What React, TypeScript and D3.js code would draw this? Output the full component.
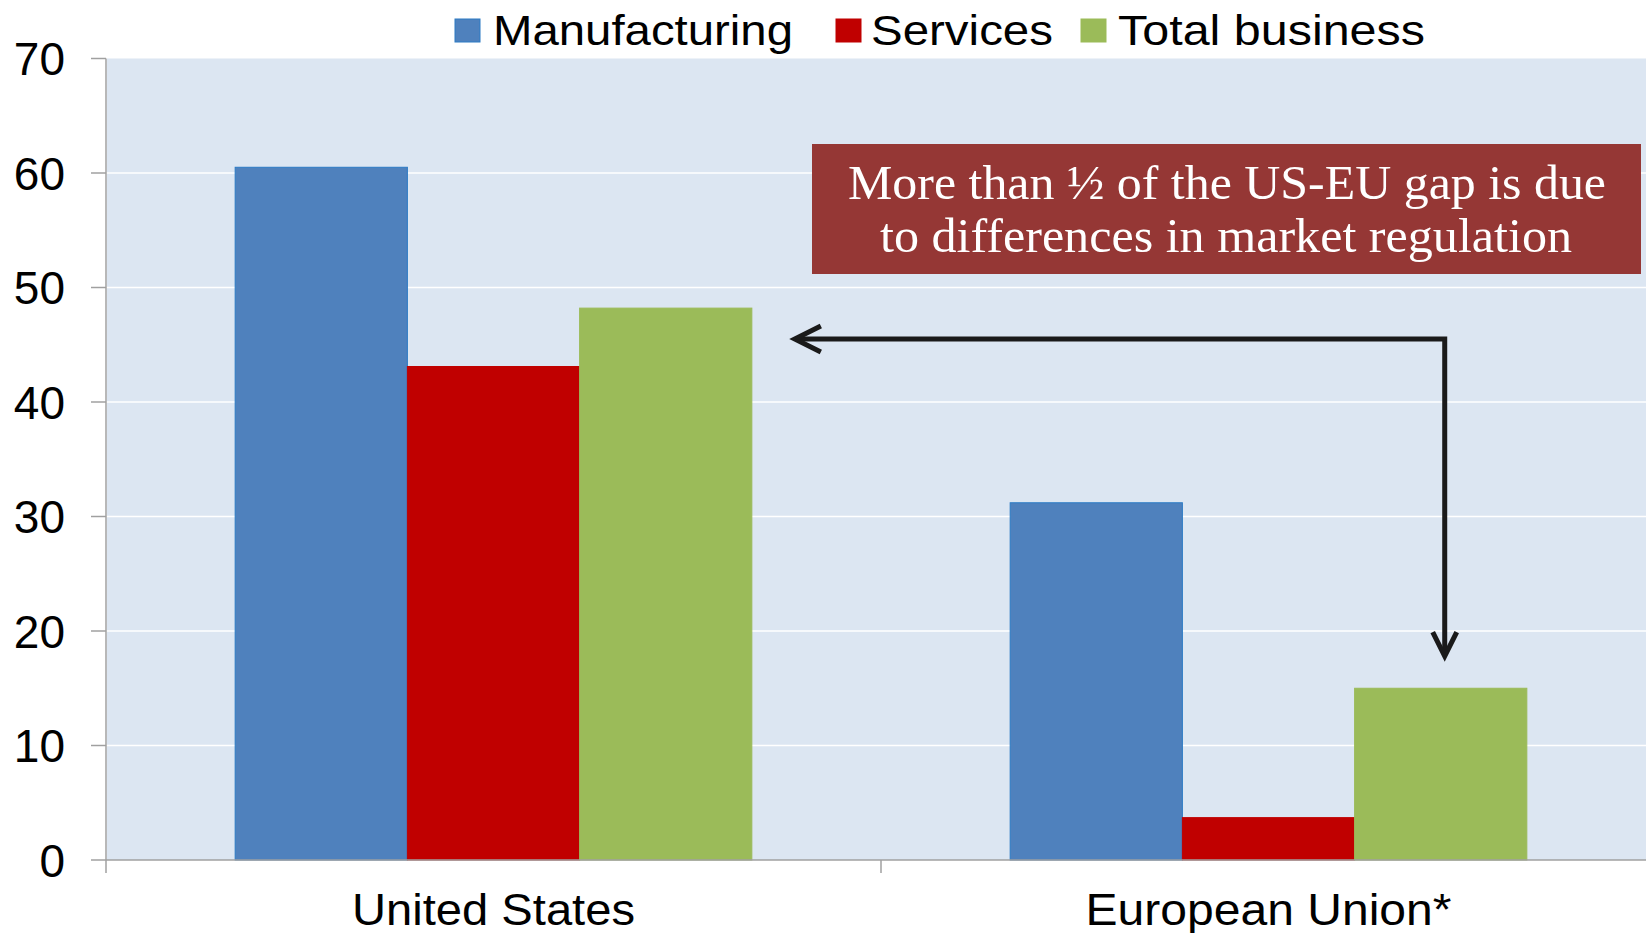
import React, { useEffect } from "react";
import * as d3 from "d3";

const categories = ["United States", "European Union*"];
const seriesNames = ["Manufacturing", "Services", "Total business"];
const manufacturing = [60.5, 31.2];
const services = [43.1, 3.7];
const totalBusiness = [48.2, 15.0];
const yTicks = [0, 10, 20, 30, 40, 50, 60, 70];
const annotationLines = ["More than ½ of the US-EU gap is due", "to differences in market regulation"];
// arrow: horizontal level (value), vertical arrow tip (value)
const arrowLevel = 45.5;
const arrowTipValue = 17.8;

const colors = ["#4F81BD", "#C00000", "#9BBB59"];
const strokes = ["#2C7BC4", "#C00000", "#9BBB59"];

const W = 1646;
const H = 933;
const left = 106;
const right = 1656;
const top = 58.5;
const bottom = 860;

export default function App() {
  useEffect(() => {
    document.body.style.margin = "0";
  }, []);

  const x0 = d3.scaleBand<string>().domain(categories).range([left, right]).paddingInner(1 / 3).paddingOuter(1 / 6);
  const x1 = d3.scaleBand<string>().domain(seriesNames).range([0, x0.bandwidth()]).padding(0);
  const y = d3.scaleLinear().domain([0, 70]).range([bottom, top]);
  const seriesValues = [manufacturing, services, totalBusiness];

  const sans = "'Liberation Sans', Arial, sans-serif";
  const usTotalRight = (x0(categories[0]) as number) + (x1(seriesNames[2]) as number) + x1.bandwidth();
  const euTotalCenter = (x0(categories[1]) as number) + (x1(seriesNames[2]) as number) + x1.bandwidth() / 2 + 4;
  const arrowY = y(arrowLevel);
  const arrowLeftX = usTotalRight + 43;
  const tipY = y(arrowTipValue);

  const legendItems = [
    { sq: 455, tx: 493, len: 300 },
    { sq: 836, tx: 871, len: 182 },
    { sq: 1081, tx: 1118, len: 307 },
  ];
  const catLens = [283, 366];

  return (
    <svg width={W} height={H} style={{ display: "block", background: "#fff" }}>
      <rect x={left + 1} y={top} width={W - left - 1} height={bottom - top} fill="#DCE6F2" />
      {yTicks.slice(1, -1).map((t) => (
        <line key={"g" + t} x1={left + 1} x2={W} y1={y(t)} y2={y(t)} stroke="#FFFFFF" strokeWidth={1.5} />
      ))}
      {categories.map((c, ci) =>
        seriesNames.map((s, si) => {
          const v = seriesValues[si][ci];
          const bx = (x0(c) as number) + (x1(s) as number);
          return (
            <rect
              key={c + s}
              x={bx}
              y={y(v)}
              width={x1.bandwidth()}
              height={y(0) - y(v)}
              fill={colors[si]}
              stroke={strokes[si]}
              strokeWidth={1}
            />
          );
        })
      )}
      {/* axes */}
      <line x1={left} x2={left} y1={top} y2={bottom + 13} stroke="#A0A0A0" strokeWidth={1.5} />
      <line x1={left} x2={W} y1={bottom} y2={bottom} stroke="#A0A0A0" strokeWidth={1.5} />
      {yTicks.map((t) => (
        <g key={"t" + t}>
          <line x1={left - 15} x2={left} y1={y(t)} y2={y(t)} stroke="#A0A0A0" strokeWidth={1.5} />
          <text x={65} y={y(t)} dy="0.36em" textAnchor="end" fontFamily={sans} fontSize={46} fill="#000">
            {t}
          </text>
        </g>
      ))}
      <line
        x1={(x0(categories[1]) as number) - (x0.step() * x0.paddingInner()) / 2}
        x2={(x0(categories[1]) as number) - (x0.step() * x0.paddingInner()) / 2}
        y1={bottom}
        y2={bottom + 13}
        stroke="#A0A0A0"
        strokeWidth={1.5}
      />
      {categories.map((c, i) => (
        <text
          key={"c" + c}
          x={(x0(c) as number) + x0.bandwidth() / 2}
          y={925}
          textAnchor="middle"
          fontFamily={sans}
          fontSize={44}
          fill="#000"
          textLength={catLens[i]}
          lengthAdjust="spacingAndGlyphs"
        >
          {c}
        </text>
      ))}
      {/* legend */}
      {seriesNames.map((s, i) => (
        <g key={"l" + s}>
          <rect x={legendItems[i].sq} y={19} width={25} height={23} fill={colors[i]} stroke={strokes[i]} strokeWidth={1} />
          <text
            x={legendItems[i].tx}
            y={45}
            fontFamily={sans}
            fontSize={42}
            fill="#000"
            textLength={legendItems[i].len}
            lengthAdjust="spacingAndGlyphs"
          >
            {s}
          </text>
        </g>
      ))}
      {/* annotation box */}
      <rect x={812} y={144} width={829} height={130} fill="#953735" />
      <text x={1227} y={199} textAnchor="middle" fontFamily="'Liberation Serif', 'DejaVu Serif', serif" fontSize={48} fill="#fff" textLength={758} lengthAdjust="spacingAndGlyphs">
        {annotationLines[0]}
      </text>
      <text x={1226} y={252} textAnchor="middle" fontFamily="'Liberation Serif', 'DejaVu Serif', serif" fontSize={48} fill="#fff" textLength={692} lengthAdjust="spacingAndGlyphs">
        {annotationLines[1]}
      </text>
      {/* arrow */}
      <path
        d={`M${arrowLeftX + 2},${arrowY} L${euTotalCenter},${arrowY} L${euTotalCenter},${tipY - 2}`}
        fill="none"
        stroke="#1A1A1A"
        strokeWidth={5}
        strokeLinejoin="miter"
      />
      <path
        d={`M${arrowLeftX + 26},${arrowY - 13} L${arrowLeftX},${arrowY} L${arrowLeftX + 26},${arrowY + 13}`}
        fill="none"
        stroke="#1A1A1A"
        strokeWidth={5}
        strokeLinejoin="miter"
      />
      <path
        d={`M${euTotalCenter - 12},${tipY - 24} L${euTotalCenter},${tipY} L${euTotalCenter + 12},${tipY - 24}`}
        fill="none"
        stroke="#1A1A1A"
        strokeWidth={5}
        strokeLinejoin="miter"
      />
    </svg>
  );
}
